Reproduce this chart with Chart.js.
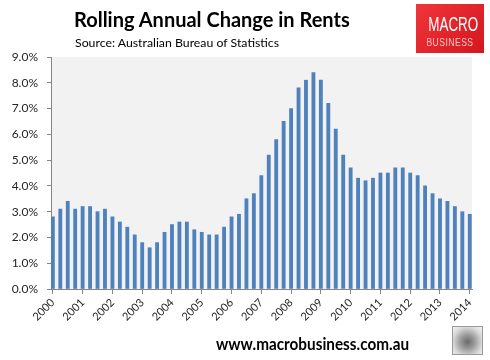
<!DOCTYPE html>
<html>
<head>
<meta charset="utf-8">
<script src="https://cdn.jsdelivr.net/npm/chart.js@4"></script>
<style>
  body { margin: 0; background: #fff; }
  #wrap { position: relative; width: 490px; height: 360px; overflow: hidden; font-family: Lato, "Open Sans", sans-serif; }
  #rentsChart { position: absolute; left: 0; top: 0; }
  .title { position: absolute; left: 74px; top: 7px; font-size: 20px; font-weight: bold; color: #000; white-space: nowrap; }
  .subtitle { position: absolute; left: 75px; top: 35px; font-size: 12.3px; color: #000; white-space: nowrap; }
  .logo { position: absolute; left: 416px; top: 4px; width: 68px; height: 49px;
          background: linear-gradient(135deg, #f0353b, #d4161d); text-align: center; font-family: "Liberation Sans", sans-serif; }
  .logo .m { color: #fff; font-size: 21px; margin-top: 11px; line-height: 18px; transform: scaleX(0.64); white-space: nowrap; }
  .logo .b { color: #f8c6c6; font-size: 11px; line-height: 14px; margin-top: 2px; letter-spacing: 0.6px; transform: scaleX(0.78); white-space: nowrap; }
  .footer { position: absolute; left: 216px; top: 333px; font-size: 17px; font-weight: bold; color: #000; white-space: nowrap;
            transform: scaleX(0.9); transform-origin: left center; }
  .wolf { position: absolute; left: 452px; top: 326px; width: 29px; height: 27px; border: 1px solid #9a9a9a;
          background: radial-gradient(circle at 50% 55%, #6a6a6a 0, #9c9c9c 35%, #d8d8d8 70%, #f4f4f4 100%); }
</style>
</head>
<body>
<div id="wrap">
  <canvas id="rentsChart" width="490" height="360"></canvas>
  <div class="title">Rolling Annual Change in Rents</div>
  <div class="subtitle">Source: Australian Bureau of Statistics</div>
  <div class="logo"><div class="m">MACRO</div><div class="b">BUSINESS</div></div>
  <div class="footer">www.macrobusiness.com.au</div>
  <div class="wolf"></div>
</div>
<script>
// Données (trimestriel, 2000 T1 -> 2014 T1)
const years = ['2000', '2001', '2002', '2003', '2004', '2005', '2006', '2007',
               '2008', '2009', '2010', '2011', '2012', '2013', '2014'];

const rentChange = [
    2.8, 3.1, 3.4, 3.1, 3.2, 3.2, 3.0, 3.1,
    2.8, 2.6, 2.4, 2.1, 1.8, 1.6, 1.8, 2.2,
    2.5, 2.6, 2.6, 2.3, 2.2, 2.1, 2.1, 2.4,
    2.8, 2.9, 3.5, 3.7, 4.4, 5.2, 5.8, 6.5,
    7.0, 7.8, 8.1, 8.4, 8.1, 7.2, 6.2, 5.2,
    4.7, 4.3, 4.2, 4.3, 4.5, 4.5, 4.7, 4.7,
    4.5, 4.4, 4.0, 3.7, 3.5, 3.4, 3.2, 3.0,
    2.9
];

const quarters = rentChange.map((v, i) => years[Math.floor(i / 4)] + ' T' + (i % 4 + 1));

const yTicks = [0, 1, 2, 3, 4, 5, 6, 7, 8, 9];

// Fond gris de la zone de tracé (comme Excel)
const plotBackground = {
    id: 'plotBackground',
    beforeDraw(chart) {
        const { ctx, chartArea } = chart;
        ctx.save();
        ctx.fillStyle = '#f2f2f2';
        ctx.fillRect(chartArea.left, chartArea.top, chartArea.right - chartArea.left, chartArea.bottom - chartArea.top);
        ctx.restore();
    }
};

const axisGrey = '#868686';

new Chart(document.getElementById('rentsChart'), {
    type: 'bar',
    data: {
        labels: quarters,
        datasets: [{
            label: 'Rolling annual change',
            data: rentChange.map((v, i) => ({ x: i, y: v })),
            backgroundColor: '#4f81bd',
            borderWidth: 0,
            barThickness: 3.2
        }]
    },
    options: {
        responsive: false,
        animation: false,
        layout: { padding: { top: 57, left: 0, right: 18, bottom: 0 } },
        plugins: {
            legend: { display: false },
            tooltip: { enabled: false }
        },
        scales: {
            x: {
                type: 'linear',
                offset: false,
                min: -0.25,
                max: 56.3,
                afterBuildTicks: (scale) => {
                    scale.ticks = years.map((y, i) => ({ value: i * 4 }));
                },
                afterFit: (scale) => {
                    scale.height = 71;
                    scale.paddingLeft = 0;
                    scale.paddingRight = 0;
                },
                grid: { offset: false, drawOnChartArea: false, drawTicks: true, tickLength: 5, color: axisGrey },
                border: { display: true, color: axisGrey },
                ticks: {
                    autoSkip: false,
                    maxRotation: 45,
                    minRotation: 45,
                    padding: 2,
                    color: '#262626',
                    font: { family: 'Lato', size: 11 },
                    callback: (v) => years[v / 4]
                }
            },
            y: {
                min: 0,
                max: 9,
                afterBuildTicks: (scale) => {
                    scale.ticks = yTicks.map(v => ({ value: v }));
                },
                afterFit: (scale) => { scale.width = 51; },
                grid: { drawOnChartArea: false, drawTicks: true, tickLength: 4, color: axisGrey },
                border: { display: true, color: axisGrey },
                ticks: {
                    padding: 9,
                    color: '#262626',
                    font: { family: 'Lato', size: 12 },
                    callback: (v) => v.toFixed(1) + '%'
                }
            }
        }
    },
    plugins: [plotBackground]
});
</script>
</body>
</html>
